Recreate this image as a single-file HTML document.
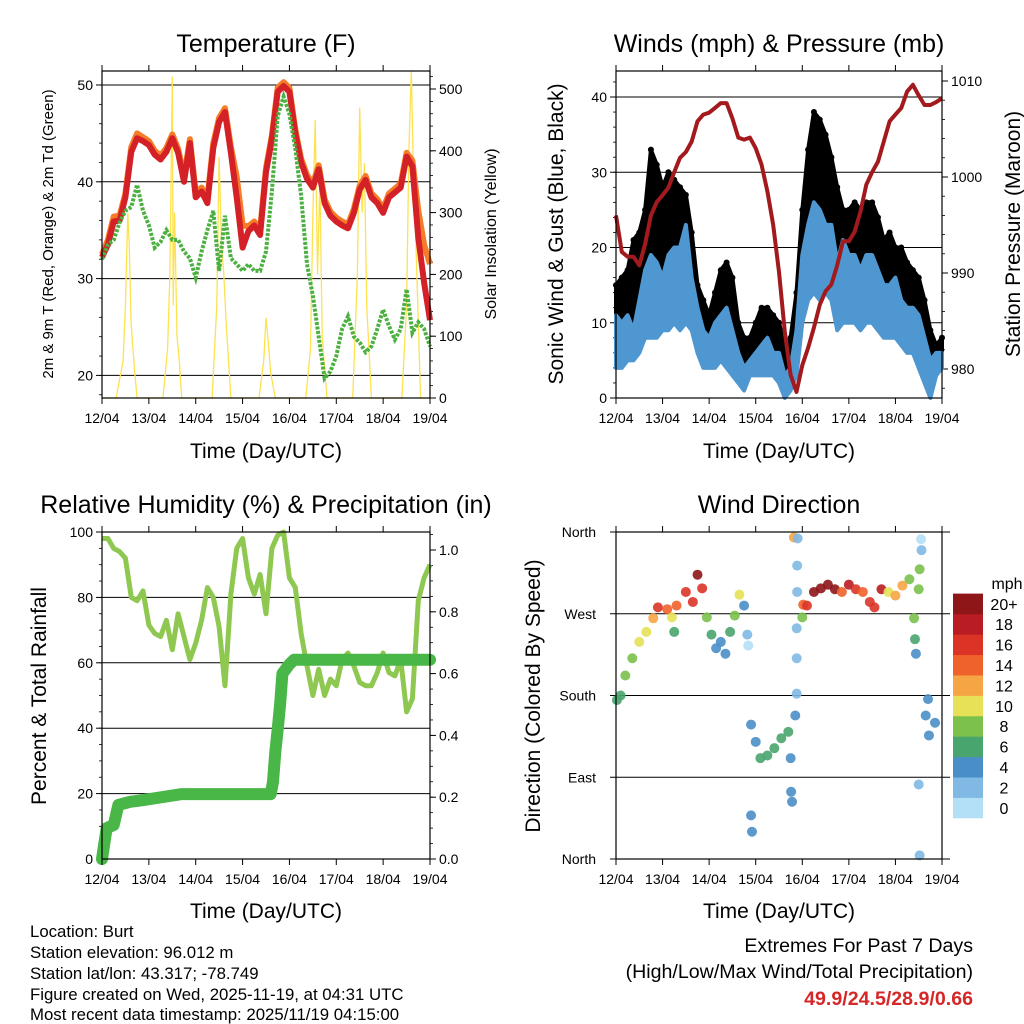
<!DOCTYPE html>
<html><head><meta charset="utf-8"><style>
body{margin:0;background:#fff;}
svg{display:block;font-family:"Liberation Sans",Arial,sans-serif;}
</style></head><body>
<svg id="chart" width="1024" height="1024" viewBox="0 0 1024 1024">
<rect width="1024" height="1024" fill="#fff"/>
<g id="g1"></g>
<g id="g2"></g>
<g id="g3"></g>
<g id="g4"></g>
<g id="txt" font-size="16.8" fill="#000">
<text x="30" y="937">Location: Burt</text>
<text x="30" y="958">Station elevation: 96.012 m</text>
<text x="30" y="979">Station lat/lon: 43.317; -78.749</text>
<text x="30" y="1000">Figure created on Wed, 2025-11-19, at 04:31 UTC</text>
<text x="30" y="1020">Most recent data timestamp: 2025/11/19 04:15:00</text>
</g>
<g font-size="19.6" text-anchor="end">
<text x="973" y="952">Extremes For Past 7 Days</text>
<text x="973" y="978">(High/Low/Max Wind/Total Precipitation)</text>
<text x="973" y="1005" fill="#d62728" font-weight="bold">49.9/24.5/28.9/0.66</text>
</g>
</svg>
<script>
const days = ["12/04","13/04","14/04","15/04","16/04","17/04","18/04","19/04"];
const tempRed = [32.2,33.5,35.9,36,38.4,43.1,44.5,44.2,43.8,42.8,42.3,43.1,44.5,43,40,44,38.4,39,37.8,43.5,46.2,47.2,43,38.4,33.2,34.9,35.5,34.5,41,44.4,49.3,49.9,49.3,45,42,40.3,39.4,41.3,37.8,36.5,35.9,35.5,35.2,36.8,39.2,40.2,38.4,37.8,36.8,38.4,38.9,39.4,42.6,41.6,34.2,29.6,25.7];
const tempOrange = [32.5,34,36.4,36.5,38.8,43.6,45,44.6,44.2,43.2,42.7,43.5,44.9,43.4,40.5,44.4,38.9,39.4,38.3,44,46.6,47.6,43.6,40.5,35.5,35.4,35.9,35,41.4,44.8,49.7,50.3,49.7,45.4,42.4,40.7,39.8,41.7,38.2,36.9,36.3,35.9,35.6,37.2,39.6,40.6,38.8,38.2,37.2,38.8,39.3,39.8,43,42.2,37,33.5,31.5];
const dewGreen = [32,33.5,34,35.8,37,37.4,39.7,37,35.5,33.2,33.8,35,34,34,32.8,32.1,30.1,32.8,35,37,30.8,36.5,32.1,31.5,30.8,31.5,30.8,30.8,32.8,39,46.8,48.8,47,43.4,38.6,31.5,28.2,24,19.7,20.4,22,24.8,26.1,24,23.4,22.4,23,24.8,26.8,25.1,23.7,24.8,28.9,24.4,25.5,24.8,23];
const solarT = [0,0.3,0.45,0.5,0.55,0.58,0.62,0.7,0.75,1.3,1.4,1.45,1.5,1.52,1.55,1.6,1.65,1.7,2.35,2.45,2.5,2.55,2.6,2.65,2.75,3.35,3.45,3.5,3.55,3.6,3.7,4.35,4.45,4.5,4.55,4.6,4.65,4.7,4.8,5.35,5.45,5.5,5.55,5.6,5.65,5.75,6.4,6.5,6.55,6.6,6.65,6.7,6.8,7];
const solarV = [0,0,60,150,300,250,120,40,0,0,80,200,520,150,300,100,60,0,0,150,390,250,200,120,0,0,60,130,90,40,0,0,80,300,450,200,350,100,0,0,200,470,300,380,150,0,0,150,400,530,350,250,0,0];
const windLo = [4,4,5,5,6,8,8,8,9,9,10,9,10,9,6,4,4,4,5,4,3,2,1,3,3,3,3,3,2,0,1,3,10,13,14,13,14,13,9,10,10,10,9,10,10,9,8,8,8,7,6,6,4,2,0,3,4];
const windHi = [11,10,11,9,13,17,19,18,16,19,20,20,23,16,12,9,8,10,11,12,9,6,4,5,6,7,8,6,6,3,4,9,19,23,26,25,23,23,18,21,19,19,17,19,19,17,15,15,16,13,12,12,11,8,5,6,6];
const gustLo = [8,8,10,9,11,15,16,16,16,15,17,16,17,12,8,6,6,6,7,6,5,4,3,4,5,6,6,5,4,2,2,6,15,18,20,20,20,18,14,17,14,15,15,15,15,15,13,12,12,12,12,10,8,6,4,4,5];
const gustHi = [15,16,17,21,22,25,33,31,28,30,29,28,27,22,15,13,11,14,17,18,16,10,8,8,10,12,12,11,10,7,8,14,25,33,38,37,35,32,28,25,25,26,25,26,26,24,21,22,20,20,18,17,16,13,9,7,8];
const pressure = [996,992.2,991.7,991.7,990.8,993,996,997.4,998.1,998.9,1000.5,1002,1002.6,1003.7,1005.8,1006.5,1006.7,1007.2,1007.7,1007.7,1006.1,1004.1,1003.9,1004.1,1003,1001.3,998.5,995,990.1,983.9,979.4,977.6,980.4,982.2,984.3,986.7,988.1,988.8,990.8,993.3,993.3,994.3,996.4,999.2,1000.5,1001.6,1003.7,1005.8,1006.5,1007.2,1008.9,1009.6,1008.5,1007.5,1007.5,1007.8,1008.2];
const rh = [98,98,95,94,92,80,79,82,71.5,69,68,73,64,75,68,61,66,73,83,80,71,53,81,95,98,86,81,87,75,95,99,100,86,83,69,59,50,58,50,55,53,61,63,59,54,53,53,57,63,57,56,61,45,49,79,86,90];
const precipT = [0,0.05,0.1,0.25,0.35,0.6,0.85,1.7,3.6,3.65,3.7,3.75,3.8,3.85,4.0,4.1,7];
const precipV = [0,0.05,0.1,0.11,0.175,0.185,0.19,0.21,0.21,0.25,0.35,0.42,0.5,0.6,0.63,0.645,0.645];
const dirT = [0.02,0.1,0.2,0.35,0.5,0.65,0.8,0.9,1.1,1.2,1.25,1.3,1.5,1.65,1.75,1.85,1.95,2.05,2.15,2.25,2.35,2.45,2.55,2.65,2.75,2.82,2.84,2.9,2.9,2.92,3.0,3.1,3.25,3.4,3.55,3.7,3.75,3.76,3.78,3.82,3.85,3.88,3.88,3.88,3.89,3.89,3.9,4.0,4.02,4.1,4.25,4.4,4.55,4.7,4.85,5.0,5.15,5.3,5.45,5.55,5.7,5.85,6.0,6.15,6.3,6.4,6.42,6.44,6.5,6.52,6.55,6.56,6.5,6.52,6.65,6.7,6.72,6.85];
const dirV = [175,180,202,221,239,250,265,277,275,266,250,279,294,283,313,298,266,247,232,239,226,250,268,291,279,247,235,148,48,30,129,111,114,122,133,140,111,74,63,354,158,182,221,254,294,323,353,266,280,279,294,298,302,297,294,302,297,294,283,277,297,294,290,301,308,265,242,226,297,319,352,340,82,4,158,176,136,150];
const dirS = [6,6,7,8,9,10,12,16,14,10,6,14,16,16,19,16,8,6,4,4,4,6,8,10,4,2,0,4,4,4,4,6,6,6,6,6,4,4,4,12,4,2,2,2,2,2,2,8,14,16,20,20,20,20,14,18,16,14,16,16,18,10,12,12,8,8,6,4,8,8,0,2,2,2,4,4,4,4];
const cbColors = ["#b3e0f7","#7fb9e4","#4a8ec7","#49a56e","#7bc14c","#e6e157","#f6a545","#f0622b","#db3427","#b91c22","#8e1518"];
const cbLabels = ["0","2","4","6","8","10","12","14","16","18","20+"];

const NS="http://www.w3.org/2000/svg";
function mk(parent,tag,attrs,text){const e=document.createElementNS(NS,tag);for(const k in attrs)e.setAttribute(k,attrs[k]);if(text!==undefined)e.textContent=text;parent.appendChild(e);return e;}
const tIdx = i=>i*0.125;

function frame(g,x0,x1,y0,y1,title,xTitleY){
  const r=mk(g,'rect',{x:x0,y:y0,width:x1-x0,height:y1-y0,fill:'none',stroke:'#000','stroke-width':1.2});
  
  
  const X=d=>x0+(x1-x0)*d/7;
  days.forEach((lab,i)=>{
    const x=X(i);
    mk(g,'line',{x1:x,x2:x,y1:y1,y2:y1+6,stroke:'#000'});
    mk(g,'line',{x1:x,x2:x,y1:y0,y2:y0-6,stroke:'#000'});
    const t=mk(g,'text',{x:x,y:y1+25,'font-size':14,'text-anchor':'middle'},lab);
    
    
  });
  const xt=mk(g,'text',{x:(x0+x1)/2,y:xTitleY,'font-size':21,'text-anchor':'middle'},'Time (Day/UTC)');
  
  
  const tt=mk(g,'text',{x:(x0+x1)/2,y:y0-19,'font-size':25,'text-anchor':'middle'},title);
  
  
  return X;
}
function yTicks(g,vals,Y,x,side,fmt,grid,x0,x1,fs){
  vals.forEach(v=>{
    const y=Y(v);
    if(grid){mk(g,'line',{x1:x0,x2:x1,y1:y,y2:y,stroke:'#000','stroke-width':1});}
    mk(g,'line',{x1:x,x2:x+(side<0?-6:6),y1:y,y2:y,stroke:'#000'});
    const t=mk(g,'text',{x:x+(side<0?-9:9),y:y+5,'font-size':fs||14,'text-anchor':side<0?'end':'start'},fmt(v));
    
    
  });
}
function minor(g,from,to,step,Y,x,side){for(let v=from;v<=to+1e-9;v+=step){const y=Y(v);mk(g,'line',{x1:x,x2:x+(side<0?-3:3),y1:y,y2:y,stroke:'#000','stroke-width':0.8});}}
function ytitle(g,x,y,txt,fs){const t=mk(g,'text',{x:0,y:0,'font-size':fs,'text-anchor':'middle',transform:`translate(${x},${y}) rotate(-90)`},txt);}
function path(pts){return pts.map((p,i)=>(i?'L':'M')+p[0].toFixed(1)+','+p[1].toFixed(1)).join('');}

{
const g=document.getElementById('g1');const x0=102,x1=430,y0=71,y1=398;
const X=d=>x0+(x1-x0)*d/7;
const Y=v=>85+(50-v)*9.68;
const YS=v=>398-v*0.618;
yTicks(g,[20,30,40,50],Y,x0,-1,v=>v,true,x0,x1);
minor(g,18,51,2,Y,x0,-1);
yTicks(g,[0,100,200,300,400,500],YS,x1,1,v=>v,false);
minor(g,0,520,20,YS,x1,1);
const s=mk(g,'path',{d:path(solarT.map((t,i)=>[X(t),YS(solarV[i])])),fill:'none',stroke:'#fde24f','stroke-width':1.3});


const o=mk(g,'path',{d:path(tempOrange.map((v,i)=>[X(tIdx(i)),Y(v)])),fill:'none',stroke:'#f57d28','stroke-width':6,'stroke-linejoin':'round'});


const r=mk(g,'path',{d:path(tempRed.map((v,i)=>[X(tIdx(i)),Y(v)])),fill:'none',stroke:'#d42027','stroke-width':6,'stroke-linejoin':'round'});


const gr=mk(g,'path',{d:path(dewGreen.map((v,i)=>[X(tIdx(i)),Y(v)])),fill:'none',stroke:'#4bb03f','stroke-width':4,'stroke-dasharray':'3 1.5'});


frame(g,x0,x1,y0,y1,'Temperature (F)',458);
ytitle(g,53,234,'2m & 9m T (Red, Orange) & 2m Td (Green)',15);
ytitle(g,496,234,'Solar Insolation (Yellow)',16);
}
{
const g=document.getElementById('g2');const x0=616,x1=942,y0=71,y1=398;
const X=d=>x0+(x1-x0)*d/7;
const Y=v=>398-v*7.525;
const YP=v=>81+(1010-v)*9.6;
yTicks(g,[0,10,20,30,40],Y,x0,-1,v=>v,true,x0,x1);
minor(g,0,42,2,Y,x0,-1);
yTicks(g,[980,990,1000,1010],YP,x1,1,v=>v,false);
minor(g,978,1011,2,YP,x1,1);
const n=gustHi.length;
const gb=[];for(let i=0;i<n;i++)gb.push([X(tIdx(i)),Y(gustHi[i])]);for(let i=n-1;i>=0;i--)gb.push([X(tIdx(i)),Y(gustLo[i])]);
const gp=mk(g,'path',{d:path(gb)+'Z',fill:'#000',stroke:'#000','stroke-width':4,'stroke-linejoin':'round'});


gustHi.forEach((v,i)=>{const c=mk(g,'circle',{cx:X(tIdx(i)),cy:Y(v),r:3,fill:'#000'});});
const wb=[];for(let i=0;i<n;i++)wb.push([X(tIdx(i)),Y(windHi[i])]);for(let i=n-1;i>=0;i--)wb.push([X(tIdx(i)),Y(windLo[i])]);
const wp=mk(g,'path',{d:path(wb)+'Z',fill:'#4f97d1',stroke:'#4f97d1','stroke-width':4,'stroke-linejoin':'round'});


const pp=mk(g,'path',{d:path(pressure.map((v,i)=>[X(tIdx(i)),YP(v)])),fill:'none',stroke:'#a31a1e','stroke-width':4,'stroke-linejoin':'round'});


frame(g,x0,x1,y0,y1,'Winds (mph) & Pressure (mb)',458);
ytitle(g,563,234,'Sonic Wind & Gust (Blue, Black)',21);
ytitle(g,1020,234,'Station Pressure (Maroon)',21);
}
{
const g=document.getElementById('g3');const x0=102,x1=430,y0=532,y1=859;
const X=d=>x0+(x1-x0)*d/7;
const Y=v=>859-v*3.27;
const YR=v=>859-v*309;
yTicks(g,[0,20,40,60,80,100],Y,x0,-1,v=>v,true,x0,x1);
minor(g,0,100,5,Y,x0,-1);
yTicks(g,[0,0.2,0.4,0.6,0.8,1.0],YR,x1,1,v=>v.toFixed(1),false);
minor(g,0,1.05,0.05,YR,x1,1);
const rl=mk(g,'path',{d:path(rh.map((v,i)=>[X(tIdx(i)),Y(v)])),fill:'none',stroke:'#8fc850','stroke-width':5,'stroke-linejoin':'round'});


const pl=mk(g,'path',{d:path(precipT.map((t,i)=>[X(t),YR(precipV[i])])),fill:'none',stroke:'#49b648','stroke-width':12,'stroke-linejoin':'round','stroke-linecap':'round'});


frame(g,x0,x1,y0,y1,'Relative Humidity (%) & Precipitation (in)',918);
ytitle(g,46,696,'Percent & Total Rainfall',21);
}
{
const g=document.getElementById('g4');const x0=616,x1=942,y0=532,y1=859;
const X=d=>x0+(x1-x0)*d/7;
const Y=v=>859-v*327/360;
const dirLabels=["North","East","South","West","North"];
[0,90,180,270,360].forEach((v,i)=>{const y=Y(v);mk(g,'line',{x1:x0,x2:950,y1:y,y2:y,stroke:'#000'});const t=mk(g,'text',{x:x0-20,y:y+5,'font-size':14,'text-anchor':'end'},dirLabels[i]);mk(g,'line',{x1:x0,x2:x0-6,y1:y,y2:y,stroke:'#000'});});
dirT.forEach((t,i)=>{const ci=Math.min(10,Math.round(dirS[i]/2));const c=mk(g,'circle',{cx:X(t),cy:Y(dirV[i]),r:5,fill:cbColors[ci],'fill-opacity':0.9});});
frame(g,x0,x1,y0,y1,'Wind Direction',918);
ytitle(g,540,696,'Direction (Colored By Speed)',21);
const cb=mk(g,'g',{});


const h=20.4;
cbColors.forEach((c,i)=>{const y=818-(i+1)*h;mk(cb,'rect',{x:953,y:y,width:30,height:h+0.3,fill:c});const t=mk(cb,'text',{x:1004,y:y+h/2+6,'font-size':16,'text-anchor':'middle'},cbLabels[i]);});
const mt=mk(cb,'text',{x:1007,y:589,'font-size':16,'text-anchor':'middle'},'mph');


}
</script>
</body></html>
